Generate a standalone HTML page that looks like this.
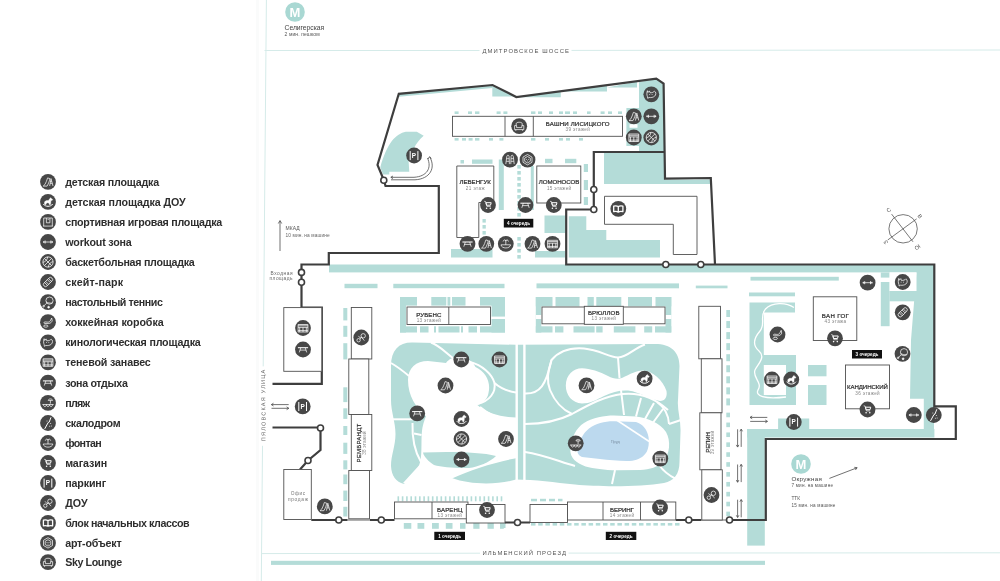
<!DOCTYPE html>
<html lang="ru"><head><meta charset="utf-8"><title>Генплан</title>
<style>
html,body{margin:0;padding:0;background:#fff;}
body{width:1000px;height:581px;overflow:hidden;font-family:"Liberation Sans",sans-serif;}
svg{display:block;will-change:transform;opacity:0.999}
text{font-family:"Liberation Sans",sans-serif;}
</style></head><body>
<svg width="1000" height="581" viewBox="0 0 1000 581">
<defs>
<g id="i-play"><circle r="7.9" fill="#474747" stroke="none"/><g fill="none" stroke="#fff" stroke-width="0.72" stroke-linejoin="round"><path d="M-4.8 4.3H-0.9C0.6 1.6 1.6 -1.2 1.9 -3.2L-0.4 -3.9C-1.2 -1.4 -2 0.8 -3 2.6Z"/><path d="M3 -3.2L1.7 4.2M3 -3.2L5 4.2M2.1 1.5H4.3M2.4 -0.4H3.8"/></g></g>
<g id="i-horse"><circle r="7.9" fill="#474747" stroke="none"/><g fill="none" stroke="#fff" stroke-width="0.72" stroke-linejoin="round"><path d="M-4.7 2.2C-2.6 5.3 2.6 5.3 4.7 2.2" stroke-width="1"/><path fill="#fff" stroke-width="0.4" d="M-3.4 2.4C-4 0.6 -3.2 -1 -1.4 -1.2H0.6C1 -2.4 1.8 -3.5 2.8 -4.1L3.3 -3.2L4.7 -2.3L4 -1.2L2.9 -1.6C2.9 0.2 2.7 1.4 2.5 2.6L1.4 2.9C1.4 1.6 0.6 0.9 -0.2 0.9C-1.2 0.9 -2 1.6 -2.1 2.9Z"/></g></g>
<g id="i-sport"><circle r="7.9" fill="#474747" stroke="none"/><g fill="none" stroke="#fff" stroke-width="0.72" stroke-linejoin="round"><path d="M-4.3 -3.9V4.1M4.3 -3.9V4.1M-5 4.2H5M-4.3 -3.9H4.3M-1.6 -3.9V0.9H1.9V-3.9M-0.4 -2.5H0.8"/></g></g>
<g id="i-workout"><circle r="7.9" fill="#474747" stroke="none"/><g fill="none" stroke="#fff" stroke-width="0.72" stroke-linejoin="round"><path d="M-5 0H5" stroke-width="0.75"/><path d="M-2.9 -1.5V1.5M2.9 -1.5V1.5" stroke-width="0.85"/><path d="M-4.2 -0.9V0.9M4.2 -0.9V0.9" stroke-width="0.8"/></g></g>
<g id="i-basket"><circle r="7.9" fill="#474747" stroke="none"/><g fill="none" stroke="#fff" stroke-width="0.72" stroke-linejoin="round"><g stroke-width="0.75"><circle r="5.1"/><path d="M-3.6 -3.6L3.6 3.6M-3.6 3.6L3.6 -3.6M-5.1 0.4C-2.6 -0.2 -0.4 -2.4 -0.4 -5.1M5.1 -0.4C2.6 0.2 0.4 2.4 0.4 5.1"/></g></g></g>
<g id="i-skate"><circle r="7.9" fill="#474747" stroke="none"/><g fill="none" stroke="#fff" stroke-width="0.72" stroke-linejoin="round"><g transform="rotate(-45)"><rect x="-5.6" y="-2.1" width="11.2" height="4.2" rx="2.1"/><path d="M-2.8 -2.1V2.1M2.8 -2.1V2.1M-1.2 -2.1V2.1M1.2 -2.1V2.1"/></g></g></g>
<g id="i-tennis"><circle r="7.9" fill="#474747" stroke="none"/><g fill="none" stroke="#fff" stroke-width="0.72" stroke-linejoin="round"><circle cx="1.5" cy="-1.6" r="3.6"/><path d="M-1.2 0.9L-4.6 4.1M-1.8 -0.4C-0.4 0.6 1.6 1.2 4.2 0.8"/><circle cx="0.6" cy="5" r="0.9" fill="#fff"/><circle cx="-4.4" cy="4" r="0.8"/></g></g>
<g id="i-hockey"><circle r="7.9" fill="#474747" stroke="none"/><g fill="none" stroke="#fff" stroke-width="0.72" stroke-linejoin="round"><path d="M3.7 -4.2L2.2 -1.2C1.6 -0.2 0.4 0 -0.8 -0.1L-3 -0.3C-4.4 -0.3 -4.4 1.3 -3 1.3L1 1.2C2.8 1 3.6 0 4.2 -1.4Z"/><ellipse cx="-2.2" cy="3.9" rx="2.2" ry="1.1"/></g></g>
<g id="i-dog"><circle r="7.9" fill="#474747" stroke="none"/><g fill="none" stroke="#fff" stroke-width="0.72" stroke-linejoin="round"><path d="M-3.9 -3.6L-3.3 -1.8L-1.9 -3.4L-1.2 -1.5C0.6 -1.6 2.4 -1.8 3.2 -3.2C4.9 -2.4 5 0.6 3.2 2C1.8 3.2 -0.4 3.4 -2.2 3.2L-3.6 4L-3.8 2.4C-4.6 0.8 -4.6 -1.8 -3.9 -3.6Z"/><path d="M-2 0.2H-1.2M0.4 0.2H1.2"/></g></g>
<g id="i-shade"><circle r="7.9" fill="#474747" stroke="none"/><g fill="none" stroke="#fff" stroke-width="0.72" stroke-linejoin="round"><g stroke-width="0.75"><rect x="-4.9" y="-3.5" width="9.8" height="7.5"/><path d="M-4.9 -2.2H4.9M-4.9 -0.6H4.9M-3.3 -0.6V4M0 -0.6V4M3.3 -0.6V4M-4.9 2.6H4.9"/></g></g></g>
<g id="i-rest"><circle r="7.9" fill="#474747" stroke="none"/><g fill="none" stroke="#fff" stroke-width="0.72" stroke-linejoin="round"><path d="M-5.1 -1.8H5.1" stroke-width="1.05"/><path d="M-2.2 -1.8L-3.7 2.9M2.2 -1.8L3.7 2.9M-3.2 0.6H3.2"/></g></g>
<g id="i-beach"><circle r="7.9" fill="#474747" stroke="none"/><g fill="none" stroke="#fff" stroke-width="0.72" stroke-linejoin="round"><path d="M-5.6 1.7H5.6"/><path d="M-4.6 1.8C-4.4 4.4 -1.8 4.4 -1.5 1.8C-1.3 4.4 1.3 4.4 1.5 1.8C1.8 4.4 4.4 4.4 4.6 1.8"/><path d="M0.2 -2.4C0.6 -4.4 4.2 -4.4 4.6 -2.4ZM2.4 -2.4V0.8"/></g></g>
<g id="i-climb"><circle r="7.9" fill="#474747" stroke="none"/><g fill="none" stroke="#fff" stroke-width="0.72" stroke-linejoin="round"><path d="M3 -5.7L1.2 -0.9L0.2 -0.5L-3.3 5.9" stroke-width="1"/><path d="M2.6 0.4V0.5M1.6 3.2V3.3M3.4 3V3.1M-1 -2V-1.9" stroke-width="0.8" stroke-linecap="round"/></g></g>
<g id="i-fountain"><circle r="7.9" fill="#474747" stroke="none"/><g fill="none" stroke="#fff" stroke-width="0.72" stroke-linejoin="round"><path d="M-4.8 1H4.8C4.4 5.2 -4.4 5.2 -4.8 1Z"/><path d="M0 -3.9V1M-2.7 -2.3C-2.2 -4.4 -0.4 -4.4 0 -2.7C0.4 -4.4 2.2 -4.4 2.7 -2.3"/></g></g>
<g id="i-shop"><circle r="7.9" fill="#474747" stroke="none"/><g fill="none" stroke="#fff" stroke-width="0.72" stroke-linejoin="round"><path d="M-3.8 -3.7L-2.4 -3.4L-1.1 1.4H2.7"/><path d="M-2.1 -2.3H3.2L2.5 0.2H-1.4Z" stroke-width="1"/><circle cx="-1.4" cy="3.3" r="0.8" fill="#fff" stroke="none"/><circle cx="2.3" cy="3.3" r="0.8" fill="#fff" stroke="none"/></g></g>
<g id="i-parking"><circle r="7.9" fill="#474747" stroke="none"/><g fill="none" stroke="#fff" stroke-width="0.72" stroke-linejoin="round"><path d="M-3.9 -4.4V4.6M3.8 -4.4V4.6" stroke-width="1"/></g></g>
<g id="i-dou"><circle r="7.9" fill="#474747" stroke="none"/><g fill="none" stroke="#fff" stroke-width="0.72" stroke-linejoin="round"><circle cx="1.9" cy="-1.7" r="2.2"/><circle cx="-2.7" cy="2.7" r="1.7"/><path d="M-1.5 1.5L0.3 -0.2M-2.9 -1.6C-2.2 -0.2 -0.8 0.8 0.3 -0.2C1.2 1.2 2 2.4 3.2 3"/></g></g>
<g id="i-school"><circle r="7.9" fill="#474747" stroke="none"/><g fill="none" stroke="#fff" stroke-width="0.72" stroke-linejoin="round"><path d="M0 -2.3C-1.4 -3.1 -3 -3.1 -4.6 -2.7V2.9C-3 2.5 -1.4 2.5 0 3.3C1.4 2.5 3 2.5 4.6 2.9V-2.7C3 -3.1 1.4 -3.1 0 -2.3ZM0 -2.3V3.3" stroke-width="1.3"/></g></g>
<g id="i-art"><circle r="7.9" fill="#474747" stroke="none"/><g fill="none" stroke="#fff" stroke-width="0.72" stroke-linejoin="round"><path d="M0 -5.2L4.5 -2.6V2.6L0 5.2L-4.5 2.6V-2.6Z"/><path d="M0 -3.2L2.8 -1.6V1.6L0 3.2L-2.8 1.6V-1.6Z"/><path d="M-1 -0.4V-0.3M1 -0.4V-0.3M0 1.2V1.3" stroke-linecap="round"/></g></g>
<g id="i-twin"><circle r="7.9" fill="#474747" stroke="none"/><g fill="none" stroke="#fff" stroke-width="0.72" stroke-linejoin="round"><path d="M-4.2 4.4L-3.2 -3.2C-2.8 -5 -1.2 -5 -0.9 -3.2L-0.6 4.4M-3.4 -1H-0.8M-3.7 1.6H-0.7"/><path d="M0.8 4.4L1.1 -3.2C1.4 -5 3 -5 3.3 -3.2L4.2 4.4M1 -1H3.5M0.9 1.6H3.8"/></g></g>
<g id="i-lounge"><circle r="7.9" fill="#474747" stroke="none"/><g fill="none" stroke="#fff" stroke-width="0.72" stroke-linejoin="round"><path d="M-3 -0.6V-2.6C-3 -4.4 3 -4.4 3 -2.6V-0.6"/><path d="M-4.6 -0.6H-2.6V1.4H2.6V-0.6H4.6V3.4H-4.6ZM-3.4 3.4V4.6M3.4 3.4V4.6"/></g></g>

</defs>
<rect x="256" y="0" width="3" height="581" fill="#fafbfb"/>
<g id="teal" fill="#b4dcd8">
<g stroke="#d5ebe9" stroke-width="1" fill="none">
<path d="M264.5 50.5H479.5M571.5 50.4L1000 50"/>
<path d="M266.4 0L263.2 366.4M262.5 445.8L261.3 581"/>
<path d="M262 553.6L480 553.2M568.5 553.1L1000 552.8"/>
</g>
<rect x="271" y="560.8" width="494" height="4.1" fill="#b4dcd8" />
<path d="M398.5 94L492.5 85V88L399 96.8Z"/>
<path d="M492.3 86V96.6H516Z"/>
<path d="M516.3 97.2H560.8V91.4ZM560.8 91.5H607V85.4ZM607 87.5H637V81.5Z"/>
<path d="M639 82L656.5 79L663.5 84L665 152H639Z"/>
<rect x="626.4" y="108" width="13.6" height="38" fill="#b4dcd8" />
<rect x="629.5" y="124.2" width="8" height="3.6" fill="#fff"/>
<path d="M604 153H665V179.5H710.5V184H604Z"/>
<path d="M380.3 167.5C383 156 388 146 392 140.7C396 136 401 132.5 405.8 131.7H416.8L423.7 135.8C419 140 416 144 414 148.2C410 153 408.6 157 408.6 161.3L409.3 171.7H389.3V174.4H383Z"/>
<rect x="454.6" y="111.4" width="4" height="2.6" fill="#b4dcd8" />
<rect x="468" y="111.4" width="4" height="2.6" fill="#b4dcd8" />
<rect x="475" y="111.4" width="4.4" height="2.6" fill="#b4dcd8" />
<rect x="496.6" y="111.4" width="4" height="2.6" fill="#b4dcd8" />
<rect x="503.4" y="111.4" width="4" height="2.6" fill="#b4dcd8" />
<rect x="531" y="111.4" width="4.4" height="2.6" fill="#b4dcd8" />
<rect x="538" y="111.4" width="4" height="2.6" fill="#b4dcd8" />
<rect x="549" y="111.4" width="4" height="2.6" fill="#b4dcd8" />
<rect x="559" y="111.4" width="4" height="2.6" fill="#b4dcd8" />
<rect x="565" y="111.4" width="5" height="2.6" fill="#b4dcd8" />
<rect x="573" y="111.4" width="4" height="2.6" fill="#b4dcd8" />
<rect x="587" y="111.4" width="3.6" height="2.6" fill="#b4dcd8" />
<rect x="600.6" y="111.4" width="4" height="2.6" fill="#b4dcd8" />
<rect x="608" y="111.4" width="4" height="2.6" fill="#b4dcd8" />
<rect x="618" y="111.4" width="4" height="2.6" fill="#b4dcd8" />
<rect x="454.6" y="138" width="4" height="2.6" fill="#b4dcd8" />
<rect x="462" y="138" width="4" height="2.6" fill="#b4dcd8" />
<rect x="468.6" y="138" width="4" height="2.6" fill="#b4dcd8" />
<rect x="475" y="138" width="4.4" height="2.6" fill="#b4dcd8" />
<rect x="489" y="138" width="4" height="2.6" fill="#b4dcd8" />
<rect x="499.4" y="138" width="4" height="2.6" fill="#b4dcd8" />
<rect x="531" y="138" width="4.4" height="2.6" fill="#b4dcd8" />
<rect x="545" y="138" width="4" height="2.6" fill="#b4dcd8" />
<rect x="559" y="138" width="4" height="2.6" fill="#b4dcd8" />
<rect x="566" y="138" width="4" height="2.6" fill="#b4dcd8" />
<rect x="579" y="138" width="4" height="2.6" fill="#b4dcd8" />
<rect x="640" y="111.3" width="3" height="2.5" fill="#b4dcd8" />
<rect x="460.5" y="160" width="3.5" height="3.5" fill="#b4dcd8" />
<rect x="472" y="159.5" width="20.5" height="4.3" fill="#b4dcd8" />
<rect x="545" y="158.8" width="7.5" height="4.4" fill="#b4dcd8" />
<rect x="565" y="158.8" width="11.3" height="4.4" fill="#b4dcd8" />
<rect x="498.8" y="159.5" width="5" height="50.5" fill="#b4dcd8" />
<rect x="530.8" y="166" width="3" height="44" fill="#b4dcd8" />
<rect x="517.3" y="165" width="3.5" height="3.6" fill="#b4dcd8" />
<rect x="517.3" y="171" width="3.5" height="3.6" fill="#b4dcd8" />
<rect x="517.3" y="177" width="3.5" height="3.6" fill="#b4dcd8" />
<rect x="517.3" y="183" width="3.5" height="3.6" fill="#b4dcd8" />
<rect x="517.3" y="189" width="3.5" height="3.6" fill="#b4dcd8" />
<rect x="517.3" y="195" width="3.5" height="3.6" fill="#b4dcd8" />
<rect x="517.3" y="201" width="3.5" height="3.6" fill="#b4dcd8" />
<rect x="517.3" y="207" width="3.5" height="3.6" fill="#b4dcd8" />
<rect x="517.3" y="213" width="3.5" height="3.6" fill="#b4dcd8" />
<rect x="517.3" y="237" width="3.5" height="3.6" fill="#b4dcd8" />
<rect x="517.3" y="243" width="3.5" height="3.6" fill="#b4dcd8" />
<rect x="517.3" y="249" width="3.5" height="3.6" fill="#b4dcd8" />
<rect x="517.3" y="255" width="3.5" height="3.6" fill="#b4dcd8" />
<rect x="482.5" y="219" width="3.3" height="3.6" fill="#b4dcd8" />
<rect x="482.5" y="225" width="3.3" height="3.6" fill="#b4dcd8" />
<rect x="482.5" y="231" width="3.3" height="3.6" fill="#b4dcd8" />
<rect x="583.8" y="164" width="4.2" height="8" fill="#b4dcd8" />
<rect x="583.8" y="180" width="4.2" height="10" fill="#b4dcd8" />
<rect x="583.8" y="197" width="4.2" height="8" fill="#b4dcd8" />
<rect x="451" y="249" width="41.5" height="8.5" fill="#b4dcd8" />
<rect x="535" y="251" width="30" height="6.5" fill="#b4dcd8" />
<rect x="544.5" y="215.5" width="21" height="17.5" fill="#b4dcd8" />
<path d="M568.8 216.3H586.3V230H606.3V240H660V257.5H568.8Z"/>
<rect x="329" y="264.5" width="605" height="7.9" fill="#b4dcd8" />
<rect x="344.5" y="283.8" width="33" height="4.4" fill="#b4dcd8" />
<rect x="393.3" y="283.8" width="111.2" height="4.4" fill="#b4dcd8" />
<rect x="536.5" y="283.4" width="142.5" height="4.9" fill="#b4dcd8" />
<rect x="695.8" y="285.6" width="31.7" height="2.7" fill="#b4dcd8" />
<rect x="750.5" y="276.8" width="88.3" height="3.8" fill="#b4dcd8" />
<rect x="749" y="292.5" width="46" height="3.8" fill="#b4dcd8" />
<rect x="400" y="297" width="17" height="8.6" fill="#b4dcd8" />
<rect x="431.3" y="297" width="15" height="8.6" fill="#b4dcd8" />
<rect x="447.5" y="297" width="2.8" height="8.6" fill="#b4dcd8" />
<rect x="452" y="297" width="13.5" height="8.6" fill="#b4dcd8" />
<rect x="480" y="297" width="20" height="8.6" fill="#b4dcd8" />
<rect x="400" y="297" width="6" height="35.5" fill="#b4dcd8" />
<rect x="491.5" y="297" width="13.5" height="35.5" fill="#b4dcd8" />
<rect x="400" y="326.3" width="17" height="6.2" fill="#b4dcd8" />
<rect x="420" y="326.3" width="8.5" height="6.2" fill="#b4dcd8" />
<rect x="434" y="326.3" width="2" height="6.2" fill="#b4dcd8" />
<rect x="438.5" y="326.3" width="21" height="6.2" fill="#b4dcd8" />
<rect x="461" y="326.3" width="2" height="6.2" fill="#b4dcd8" />
<rect x="468.5" y="326.3" width="8.5" height="6.2" fill="#b4dcd8" />
<rect x="480" y="326.3" width="25" height="6.2" fill="#b4dcd8" />
<rect x="491" y="316.6" width="15" height="2.4" fill="#fff"/>
<rect x="535.8" y="297" width="16.7" height="9.3" fill="#b4dcd8" />
<rect x="555.5" y="297" width="24" height="9.3" fill="#b4dcd8" />
<rect x="587.5" y="297" width="6.3" height="9.3" fill="#b4dcd8" />
<rect x="596.3" y="297" width="25" height="9.3" fill="#b4dcd8" />
<rect x="628" y="297" width="24" height="9.3" fill="#b4dcd8" />
<rect x="655.5" y="297" width="15.8" height="9.3" fill="#b4dcd8" />
<rect x="535.8" y="297" width="5.5" height="35.5" fill="#b4dcd8" />
<rect x="665.5" y="297" width="5.8" height="35.5" fill="#b4dcd8" />
<rect x="535.8" y="326.3" width="16.7" height="6.2" fill="#b4dcd8" />
<rect x="555" y="326.3" width="8.4" height="6.2" fill="#b4dcd8" />
<rect x="573.5" y="326.3" width="21.1" height="6.2" fill="#b4dcd8" />
<rect x="596.2" y="326.3" width="6.4" height="6.2" fill="#b4dcd8" />
<rect x="613.8" y="326.3" width="21.6" height="6.2" fill="#b4dcd8" />
<rect x="644.2" y="326.3" width="8" height="6.2" fill="#b4dcd8" />
<rect x="655" y="326.3" width="16.3" height="6.2" fill="#b4dcd8" />
<rect x="535.8" y="315" width="6" height="4" fill="#fff"/><rect x="665.5" y="315" width="6" height="4" fill="#fff"/>
<rect x="343.3" y="308" width="4" height="12.4" fill="#b4dcd8" />
<rect x="343.3" y="325.8" width="4" height="11" fill="#b4dcd8" />
<rect x="343.3" y="343.2" width="4" height="16.2" fill="#b4dcd8" />
<rect x="343.3" y="387.3" width="4" height="14.8" fill="#b4dcd8" />
<rect x="343.3" y="408.3" width="4" height="10.6" fill="#b4dcd8" />
<rect x="343.3" y="426" width="4" height="9" fill="#b4dcd8" />
<rect x="343.3" y="442.7" width="4" height="11.2" fill="#b4dcd8" />
<rect x="343.3" y="460.3" width="4" height="9.1" fill="#b4dcd8" />
<rect x="343.3" y="474.5" width="4" height="9.7" fill="#b4dcd8" />
<rect x="343.3" y="490.6" width="4" height="10.4" fill="#b4dcd8" />
<rect x="343.3" y="506.8" width="4" height="9.7" fill="#b4dcd8" />
<rect x="726.3" y="310" width="3.7" height="7" fill="#b4dcd8" />
<rect x="726.3" y="321.05" width="3.7" height="7" fill="#b4dcd8" />
<rect x="726.3" y="332.1" width="3.7" height="7" fill="#b4dcd8" />
<rect x="726.3" y="343.15" width="3.7" height="7" fill="#b4dcd8" />
<rect x="726.3" y="354.2" width="3.7" height="7" fill="#b4dcd8" />
<rect x="726.3" y="365.25" width="3.7" height="7" fill="#b4dcd8" />
<rect x="726.3" y="376.3" width="3.7" height="7" fill="#b4dcd8" />
<rect x="726.3" y="387.35" width="3.7" height="7" fill="#b4dcd8" />
<rect x="726.3" y="398.4" width="3.7" height="7" fill="#b4dcd8" />
<rect x="726.3" y="412.65" width="3.7" height="4.6" fill="#b4dcd8" />
<rect x="726.3" y="422.55" width="3.7" height="4.6" fill="#b4dcd8" />
<rect x="726.3" y="432.45" width="3.7" height="4.6" fill="#b4dcd8" />
<rect x="726.3" y="442.35" width="3.7" height="4.6" fill="#b4dcd8" />
<rect x="726.3" y="452.25" width="3.7" height="4.6" fill="#b4dcd8" />
<rect x="726.3" y="462.15" width="3.7" height="4.6" fill="#b4dcd8" />
<rect x="726.3" y="472.05" width="3.7" height="4.6" fill="#b4dcd8" />
<rect x="726.3" y="481.95" width="3.7" height="4.6" fill="#b4dcd8" />
<rect x="726.3" y="491.85" width="3.7" height="4.6" fill="#b4dcd8" />
<rect x="726.3" y="501.75" width="3.7" height="4.6" fill="#b4dcd8" />
<rect x="726.3" y="511.65" width="3.7" height="4.6" fill="#b4dcd8" />
<rect x="397.5" y="496.3" width="1.6" height="5" fill="#b4dcd8" />
<rect x="401.8" y="496.3" width="1.6" height="5" fill="#b4dcd8" />
<rect x="406.1" y="496.3" width="1.6" height="5" fill="#b4dcd8" />
<rect x="410.4" y="496.3" width="1.6" height="5" fill="#b4dcd8" />
<rect x="414.7" y="496.3" width="1.6" height="5" fill="#b4dcd8" />
<rect x="419" y="496.3" width="1.6" height="5" fill="#b4dcd8" />
<rect x="423.3" y="496.3" width="1.6" height="5" fill="#b4dcd8" />
<rect x="427.6" y="496.3" width="1.6" height="5" fill="#b4dcd8" />
<rect x="431.9" y="496.3" width="1.6" height="5" fill="#b4dcd8" />
<rect x="436.2" y="496.3" width="1.6" height="5" fill="#b4dcd8" />
<rect x="440.5" y="496.3" width="1.6" height="5" fill="#b4dcd8" />
<rect x="444.8" y="496.3" width="1.6" height="5" fill="#b4dcd8" />
<rect x="449.1" y="496.3" width="1.6" height="5" fill="#b4dcd8" />
<rect x="453.4" y="496.3" width="1.6" height="5" fill="#b4dcd8" />
<rect x="457.7" y="496.3" width="1.6" height="5" fill="#b4dcd8" />
<rect x="462" y="496.3" width="1.6" height="5" fill="#b4dcd8" />
<rect x="466.3" y="496.3" width="1.6" height="5" fill="#b4dcd8" />
<rect x="470.6" y="496.3" width="1.6" height="5" fill="#b4dcd8" />
<rect x="474.9" y="496.3" width="1.6" height="5" fill="#b4dcd8" />
<rect x="479.2" y="496.3" width="1.6" height="5" fill="#b4dcd8" />
<rect x="483.5" y="496.3" width="1.6" height="5" fill="#b4dcd8" />
<rect x="487.8" y="496.3" width="1.6" height="5" fill="#b4dcd8" />
<rect x="492.1" y="496.3" width="1.6" height="5" fill="#b4dcd8" />
<rect x="496.4" y="496.3" width="1.6" height="5" fill="#b4dcd8" />
<rect x="500.7" y="496.3" width="1.6" height="5" fill="#b4dcd8" />
<rect x="403.8" y="523" width="7.5" height="5.8" fill="#b4dcd8" />
<rect x="417.5" y="523" width="6.8" height="5.8" fill="#b4dcd8" />
<rect x="432" y="523" width="6.8" height="5.8" fill="#b4dcd8" />
<rect x="445.8" y="523" width="6.7" height="5.8" fill="#b4dcd8" />
<rect x="460" y="523" width="5.5" height="5.8" fill="#b4dcd8" />
<rect x="473.3" y="523" width="6.2" height="5.8" fill="#b4dcd8" />
<rect x="487.5" y="523" width="6.3" height="5.8" fill="#b4dcd8" />
<rect x="500" y="523" width="3.8" height="5.8" fill="#b4dcd8" />
<rect x="531" y="498.8" width="6" height="2.5" fill="#b4dcd8" />
<rect x="540" y="498.8" width="6" height="2.5" fill="#b4dcd8" />
<rect x="549" y="498.8" width="6" height="2.5" fill="#b4dcd8" />
<rect x="558" y="498.8" width="4.5" height="2.5" fill="#b4dcd8" />
<rect x="531" y="523" width="4.5" height="2.6" fill="#b4dcd8" />
<rect x="538.2" y="523" width="4.5" height="2.6" fill="#b4dcd8" />
<rect x="545.4" y="523" width="4.5" height="2.6" fill="#b4dcd8" />
<rect x="552.6" y="523" width="4.5" height="2.6" fill="#b4dcd8" />
<rect x="559.8" y="523" width="4.5" height="2.6" fill="#b4dcd8" />
<rect x="567" y="523" width="4.5" height="2.6" fill="#b4dcd8" />
<rect x="574.2" y="523" width="4.5" height="2.6" fill="#b4dcd8" />
<rect x="581.4" y="523" width="4.5" height="2.6" fill="#b4dcd8" />
<rect x="588.6" y="523" width="4.5" height="2.6" fill="#b4dcd8" />
<rect x="595.8" y="523" width="4.5" height="2.6" fill="#b4dcd8" />
<rect x="603" y="523" width="4.5" height="2.6" fill="#b4dcd8" />
<rect x="610.2" y="523" width="4.5" height="2.6" fill="#b4dcd8" />
<rect x="617.4" y="523" width="4.5" height="2.6" fill="#b4dcd8" />
<rect x="624.6" y="523" width="4.5" height="2.6" fill="#b4dcd8" />
<rect x="631.8" y="523" width="4.5" height="2.6" fill="#b4dcd8" />
<rect x="639" y="523" width="4.5" height="2.6" fill="#b4dcd8" />
<rect x="646.2" y="523" width="4.5" height="2.6" fill="#b4dcd8" />
<rect x="653.4" y="523" width="4.5" height="2.6" fill="#b4dcd8" />
<rect x="660.6" y="523" width="4.5" height="2.6" fill="#b4dcd8" />
<rect x="667.8" y="523" width="4.5" height="2.6" fill="#b4dcd8" />
<rect x="675" y="523" width="4.5" height="2.6" fill="#b4dcd8" />
<rect x="503" y="523" width="2.5" height="5" fill="#b4dcd8" />
<path d="M916.5 272L911 340L910 398.8H923.8V437H934V265Z"/>
<rect x="880.8" y="272.5" width="8.8" height="5.1" fill="#b4dcd8" />
<rect x="880.8" y="282" width="8.8" height="44.2" fill="#b4dcd8" />
<rect x="889.5" y="291" width="26.5" height="10.3" fill="#b4dcd8" />
<rect x="889.6" y="272.5" width="26.9" height="18.5" fill="#fff"/>
<path d="M749.5 302.5H795V312.5H763.8V355H796V405H749.5Z"/>
<rect x="763.8" y="365" width="22.2" height="30" fill="#fff"/>
<rect x="808" y="365" width="18.5" height="11.3" fill="#b4dcd8" />
<rect x="808" y="385" width="18.5" height="20" fill="#b4dcd8" />
<path d="M794 307.5C786 302 772 302 765.5 309C759 316 766 324 760 331C754 338 752 345 759 351C766 357 758 364 755 370C752 377 763 383 758 390C755 396 764 399.5 786 397" fill="none" stroke="#fff" stroke-width="1.3"/>
<rect x="747.2" y="429" width="187.2" height="8.5" fill="#b4dcd8" />
<rect x="747.2" y="429" width="17.6" height="116.6" fill="#b4dcd8" />
<rect x="778.1" y="418.5" width="31.1" height="11.5" fill="#b4dcd8" />
<path d="M391 366C391 350 399 342 413 342.5L516 344.8L655 344C671 344 679.5 352 679.5 366L678 400C677 410 681 420 680.5 432L679.5 462C679.5 474 674 481 664 483C640 487 600 487 575 484.5C555 482.5 535 479.5 516 479.5C498 485 470 485 452 478L419 465.5C416 473 410 480 404 484C396 482 391.5 476 391 466C391 455 395.5 446 395.5 434C395.5 422 391 412 391 400Z"/>
<path fill="#fff" d="M408 380C408 368 416 361 428 361L446 363C452 354 470 355 475.5 367C486 372 491 382 488.5 393C487.5 399 483 403 477.4 405C486 413 500 417 516 417.5V458.2C495 462 470 470 452 478.5L430 492L403 483L419 465.5C422.5 458 421 442 421.8 433C422.5 425 424.5 420 426 416.2C416 408 408 396 408 380Z"/>
<path d="M423 452.6C450 451.5 480 452 496 456C490 462 478 467 469 468C455 468.5 442 467 434 465C428 461 424 457 423 452.6Z"/>
<g fill="none" stroke="#fff" stroke-width="2">
<path d="M431 342.5C440 346 445 352 453 358"/>
<path d="M391 363C398 367 403 371 409 376"/>
<path d="M391 419.3H413"/>
<path d="M412.5 423C412 438 415 452 421 462"/>
<path d="M414 433.5L421.5 435"/>
<path d="M470 362C482 365 492 374 494.5 383C500 388 507 391 516 392.5"/>
<path d="M494.5 383C496 392 490 401 477.5 404"/>
<path d="M516 420C500 420 488 414 480 407"/>
</g>
<path d="M516.7 343V480M524.4 343V480" stroke="#fff" stroke-width="2.4" fill="none"/>
<path fill="#fff" d="M565.8 385.5C566 375 573 368.3 582 368.3C590 368.3 600 372 608 376C613 378.5 617 379.5 622 378C630 374 637 370.5 643.5 370.5C652 371 663 380 666.5 391C667.5 397 665 401 660 401C652 400 640 392 628 390.5C620 390 612 392 604 396C596 400 590 403.5 582 403.5C572 403 565.8 395 565.8 385.5Z"/>
<path fill="#fff" d="M570.3 450C571 438 576 428 584 423C593 417.5 604 415.5 614 415.5L636 416.5C648 418 660 423 666 432C671 441 670 454 663 462C658 467 650 469.5 640 470L618 470.3C606 470.5 594 468.5 585.6 466.5C576 463 570.3 458 570.3 450Z"/>
<path fill="#bcd9ee" d="M577.5 450C579 441 583 433 589 428.4C596 423.5 605 421 614.4 421.2L636 422C643 424 647.5 430 648.6 437.4C649.3 443 648.5 448 646.8 451.8C643 457.5 638 460 632.4 460.8C622 461.5 610 460 600 459L582 457C578.5 455.5 577 453 577.5 450Z"/>
<path d="M612 417L650 442" stroke="#fff" stroke-width="1.6" fill="none"/>
<g fill="none" stroke="#fff" stroke-width="2">
<path d="M525 393.5C540 394 546 385 551.5 360C560 350 572 347.5 584 348.5C600 350 608 357 618 357.5C628 357 634 348 645 344.5"/>
<path d="M551.5 360C548 370 546 380 550 390C555 402 563 410 572 414"/>
<path d="M525 424C545 424 560 420 572 414C590 404 605 396 622 394C640 392 655 398 668 410"/>
<path d="M618 357.5L619.5 378M621 390L624 415"/>
<path d="M641 398L636 416.5M654 403L645 419M663 409L652 424"/>

<path d="M525 452C545 455 560 462 575 466"/>
<path d="M615 470L612 484"/>
<path d="M659 465C664 472 670 476 676 479"/>
<path d="M669 424L681 420"/><path d="M657 402C664 407 668.5 414 669 424"/>
</g>
</g>
<g id="outline" fill="none" stroke="#3e3e3e" stroke-width="2.2" stroke-linejoin="miter">
<path d="M383.8 180L377.5 165L398.8 93.8L492.5 85L516.3 97L656.3 78.6L663.6 83.6L665 178.6L710.8 178L715 264.5"/>
<path d="M383.8 180.3L385.5 186H438.8V253H328.8V264.5H301.5V307.6H321.8V383.8H272.5"/>
<path d="M272.5 427.5H320.5V450L308 460.5L300 469.5"/>
<path d="M665 152H593.8V209.5H566.2V264.5H934.3V406.4H955.8V439H765.8V520H729.5"/>
<path d="M311.3 520H347.5M370 520H394.5M505 522.5H530M675.8 520H701.3"/>
</g>
<path d="M347.5 520H370M701.3 520H729.5" stroke="#3e3e3e" stroke-width="0.8" fill="none"/>
<g fill="#fff" stroke="#3e3e3e" stroke-width="1.6">
<circle cx="383.8" cy="180.3" r="3"/>
<circle cx="301.5" cy="272.4" r="3"/>
<circle cx="301.5" cy="282.2" r="3"/>
<circle cx="320.5" cy="428" r="3"/>
<circle cx="308" cy="460.5" r="3"/>
<circle cx="338.8" cy="520" r="3"/>
<circle cx="381.3" cy="520" r="3"/>
<circle cx="517.5" cy="522.5" r="3"/>
<circle cx="688.8" cy="520" r="3"/>
<circle cx="729.5" cy="520" r="3"/>
<circle cx="593.8" cy="189.5" r="3"/>
<circle cx="593.8" cy="209.5" r="3"/>
<circle cx="665.8" cy="264.5" r="3"/>
<circle cx="700.8" cy="264.5" r="3"/>
</g>
<g id="bld" fill="#fff" stroke="#505050" stroke-width="0.9">
<rect x="452.5" y="116.3" width="170" height="20"/>
<path d="M505 116.3V136.3M533.3 116.3V136.3"/>
<path d="M456.8 166H493.8V202.5H478.8V237.5H456.8Z"/>
<rect x="536.8" y="166" width="44" height="37"/>
<path d="M604.5 196.3H697V254.5H673.3V224.3H604.5Z"/>
<rect x="283.8" y="307.6" width="38" height="63.7"/>
<rect x="283.8" y="469.5" width="27.5" height="50"/>
<rect x="351.3" y="307.5" width="20.5" height="51.5"/>
<rect x="348.8" y="359" width="20" height="55.5"/>
<rect x="351.3" y="414.5" width="20.5" height="56"/>
<rect x="348.8" y="470.5" width="20.7" height="48.3"/>
<rect x="407" y="307" width="83.5" height="17.5"/>
<path d="M448.8 307V324.5"/>
<rect x="542" y="307" width="123" height="16.8"/>
<rect x="584.3" y="306.3" width="39" height="18"/>
<rect x="698.8" y="306.3" width="21.7" height="52.5"/>
<rect x="701.3" y="358.8" width="20.7" height="54"/>
<rect x="699.8" y="412.8" width="21.2" height="57"/>
<rect x="701.8" y="469.8" width="20.5" height="50.2"/>
<rect x="394.5" y="502" width="73.5" height="16.8"/>
<path d="M432 502V518.8"/>
<rect x="466.3" y="504.5" width="38.7" height="18.5"/>
<rect x="530" y="504.5" width="37.5" height="18"/>
<rect x="567.5" y="502" width="108.3" height="18"/>
<path d="M603 502V520M640.5 502V520"/>
<rect x="813.3" y="296.8" width="43.5" height="43.7"/>
<rect x="845.5" y="365" width="44" height="43.8"/>
</g>
<g fill="none" stroke="#4c4c4c" stroke-width="0.8">
<path d="M280 251V221M278.3 223.5L280 220.5L281.7 223.5"/>
<path d="M271.5 404.6H288.7M273.5 403.2L271.3 404.6L273.5 406M271.5 408.3H288.7M286.6 406.9L288.9 408.3L286.6 409.7"/>
<path d="M750.2 417.4H767.3M752.2 416L750 417.4L752.2 418.8M750.2 421.4H767.3M765.3 420L767.5 421.4L765.3 422.8"/>
<path d="M737.6 429.3V446.90000000000003M736.3 444.90000000000003L737.6 447.1L738.9 444.90000000000003M741.2 429.3V446.90000000000003M739.9 431.3L741.2 429.1L742.5 431.3"/>
<path d="M737.6 464.5V482.1M736.3 480.1L737.6 482.3L738.9 480.1M741.2 464.5V482.1M739.9 466.5L741.2 464.3L742.5 466.5"/>
<path d="M737.6 499.7V517.3M736.3 515.3L737.6 517.5L738.9 515.3M741.2 499.7V517.3M739.9 501.7L741.2 499.5L742.5 501.7"/>
<path d="M427.5 158C432 168 427 176.5 414 177.3H391M393 176L390.8 177.3L393 178.6"/>
<path d="M391 179.8H415C430 179 436 168 429.8 157M428 159L429.6 156.6L431.3 158.6"/>
<path d="M829.4 478.4L857 467.8M854.3 467.3L857.2 467.7L855.4 470"/>
</g>
<g fill="none" stroke="#555" stroke-width="0.8"><circle cx="903.1" cy="228.8" r="14.2"/><path d="M891.6 214.1L913 241.8M887.7 240L916.6 218.9"/></g>
<use href="#i-shop" x="488" y="205"/>
<use href="#i-rest" x="525.5" y="205"/>
<use href="#i-shop" x="553.8" y="205"/>
<use href="#i-rest" x="467.5" y="243.8"/>
<use href="#i-play" x="486.3" y="243.8"/>
<use href="#i-fountain" x="505.8" y="243.8"/>
<use href="#i-play" x="532.5" y="243.8"/>
<use href="#i-shade" x="552.5" y="243.8"/>
<use href="#i-twin" x="510" y="159.7"/>
<use href="#i-art" x="527.5" y="159.7"/>
<use href="#i-lounge" x="519.2" y="126.2"/>
<use href="#i-dog" x="651.3" y="94.3"/>
<use href="#i-play" x="633.8" y="116.3"/>
<use href="#i-workout" x="651.3" y="116.3"/>
<use href="#i-shade" x="633.8" y="137.5"/>
<use href="#i-basket" x="651.3" y="137.5"/>
<use href="#i-parking" x="414.1" y="155.5"/>
<text x="414" y="157.85" font-size="6.4" font-weight="bold" fill="#fff" text-anchor="middle">P</text>
<use href="#i-school" x="618.3" y="208.8"/>
<use href="#i-workout" x="867.6" y="282.7"/>
<use href="#i-dog" x="902.7" y="282"/>
<use href="#i-skate" x="902.7" y="312.3"/>
<use href="#i-tennis" x="902.5" y="353.8"/>
<use href="#i-hockey" x="777.5" y="334.5"/>
<use href="#i-shop" x="835" y="338.3"/>
<use href="#i-shade" x="772" y="379.5"/>
<use href="#i-horse" x="791.3" y="379.5"/>
<use href="#i-workout" x="913.8" y="415"/>
<use href="#i-climb" x="933.8" y="415"/>
<use href="#i-shop" x="867.5" y="409.5"/>
<use href="#i-parking" x="793.8" y="422"/>
<text x="793.7" y="424.35" font-size="6.4" font-weight="bold" fill="#fff" text-anchor="middle">P</text>
<use href="#i-shade" x="303" y="328"/>
<use href="#i-rest" x="303" y="349.5"/>
<use href="#i-dou" x="361.3" y="337.5"/>
<use href="#i-parking" x="302.7" y="406.4"/>
<text x="302.6" y="408.75" font-size="6.4" font-weight="bold" fill="#fff" text-anchor="middle">P</text>
<use href="#i-play" x="324.8" y="506.4"/>
<use href="#i-rest" x="461.3" y="359.5"/>
<use href="#i-shade" x="499.5" y="359.5"/>
<use href="#i-play" x="445.5" y="385.5"/>
<use href="#i-rest" x="417.2" y="413.4"/>
<use href="#i-horse" x="461.5" y="419"/>
<use href="#i-basket" x="461.5" y="439"/>
<use href="#i-workout" x="461.5" y="459.5"/>
<use href="#i-play" x="506" y="439"/>
<use href="#i-play" x="586.5" y="385.4"/>
<use href="#i-horse" x="644.6" y="378.7"/>
<use href="#i-beach" x="575.7" y="443.3"/>
<use href="#i-shade" x="660.3" y="458.6"/>
<use href="#i-shop" x="487" y="510"/>
<use href="#i-shop" x="660" y="507.5"/>
<use href="#i-dou" x="711.5" y="495"/>
<use href="#i-play" x="48" y="181.8"/>
<use href="#i-horse" x="48" y="201.8"/>
<use href="#i-sport" x="48" y="221.9"/>
<use href="#i-workout" x="48" y="242"/>
<use href="#i-basket" x="48" y="262"/>
<use href="#i-skate" x="48" y="282"/>
<use href="#i-tennis" x="48" y="302.2"/>
<use href="#i-hockey" x="48" y="322.2"/>
<use href="#i-dog" x="48" y="342.3"/>
<use href="#i-shade" x="48" y="362.3"/>
<use href="#i-rest" x="48" y="382.7"/>
<use href="#i-beach" x="48" y="402.8"/>
<use href="#i-climb" x="48" y="423"/>
<use href="#i-fountain" x="48" y="443"/>
<use href="#i-shop" x="48" y="463"/>
<use href="#i-parking" x="48" y="483"/>
<text x="47.9" y="485.35" font-size="6.4" font-weight="bold" fill="#fff" text-anchor="middle">P</text>
<use href="#i-dou" x="48" y="503"/>
<use href="#i-school" x="48" y="522.9"/>
<use href="#i-art" x="48" y="542.9"/>
<use href="#i-lounge" x="48" y="562.2"/>
<text x="65.2" y="185.75" font-size="10.7" fill="#2e2e2e" font-weight="bold" textLength="93.9" lengthAdjust="spacing" class="leg">детская площадка</text>
<text x="65.2" y="205.75" font-size="10.7" fill="#2e2e2e" font-weight="bold" textLength="120.4" lengthAdjust="spacing" class="leg">детская площадка ДОУ</text>
<text x="65.2" y="225.85" font-size="10.7" fill="#2e2e2e" font-weight="bold" textLength="157.1" lengthAdjust="spacing" class="leg">спортивная игровая площадка</text>
<text x="65.2" y="245.95" font-size="10.7" fill="#2e2e2e" font-weight="bold" textLength="66.6" lengthAdjust="spacing" class="leg">workout зона</text>
<text x="65.2" y="265.95" font-size="10.7" fill="#2e2e2e" font-weight="bold" textLength="129.5" lengthAdjust="spacing" class="leg">баскетбольная площадка</text>
<text x="65.2" y="285.95" font-size="10.7" fill="#2e2e2e" font-weight="bold" textLength="57.9" lengthAdjust="spacing" class="leg">скейт-парк</text>
<text x="65.2" y="306.15" font-size="10.7" fill="#2e2e2e" font-weight="bold" textLength="97.7" lengthAdjust="spacing" class="leg">настольный теннис</text>
<text x="65.2" y="326.15" font-size="10.7" fill="#2e2e2e" font-weight="bold" textLength="98.4" lengthAdjust="spacing" class="leg">хоккейная коробка</text>
<text x="65.2" y="346.25" font-size="10.7" fill="#2e2e2e" font-weight="bold" textLength="135.6" lengthAdjust="spacing" class="leg">кинологическая площадка</text>
<text x="65.2" y="366.25" font-size="10.7" fill="#2e2e2e" font-weight="bold" textLength="85.6" lengthAdjust="spacing" class="leg">теневой занавес</text>
<text x="65.2" y="386.65" font-size="10.7" fill="#2e2e2e" font-weight="bold" textLength="62.7" lengthAdjust="spacing" class="leg">зона отдыха</text>
<text x="65.2" y="406.75" font-size="10.7" fill="#2e2e2e" font-weight="bold" textLength="24.9" lengthAdjust="spacing" class="leg">пляж</text>
<text x="65.2" y="426.95" font-size="10.7" fill="#2e2e2e" font-weight="bold" textLength="55.4" lengthAdjust="spacing" class="leg">скалодром</text>
<text x="65.2" y="446.95" font-size="10.7" fill="#2e2e2e" font-weight="bold" textLength="36.5" lengthAdjust="spacing" class="leg">фонтан</text>
<text x="65.2" y="466.95" font-size="10.7" fill="#2e2e2e" font-weight="bold" textLength="42" lengthAdjust="spacing" class="leg">магазин</text>
<text x="65.2" y="486.95" font-size="10.7" fill="#2e2e2e" font-weight="bold" textLength="40.9" lengthAdjust="spacing" class="leg">паркинг</text>
<text x="65.2" y="506.95" font-size="10.7" fill="#2e2e2e" font-weight="bold" textLength="22.4" lengthAdjust="spacing" class="leg">ДОУ</text>
<text x="65.2" y="526.85" font-size="10.7" fill="#2e2e2e" font-weight="bold" textLength="124.5" lengthAdjust="spacing" class="leg">блок начальных классов</text>
<text x="65.2" y="546.85" font-size="10.7" fill="#2e2e2e" font-weight="bold" textLength="56.5" lengthAdjust="spacing" class="leg">арт-объект</text>
<text x="65.2" y="566.15" font-size="10.7" fill="#2e2e2e" font-weight="bold" textLength="56.9" lengthAdjust="spacing" class="leg">Sky Lounge</text>
<text x="545.8" y="126" font-size="6.1" fill="#2f2f2f" textLength="63.7" lengthAdjust="spacing" stroke="#2f2f2f" stroke-width="0.22">БАШНИ ЛИСИЦКОГО</text>
<text x="565.5" y="131.3" font-size="4.6" fill="#858585" textLength="24.3" lengthAdjust="spacing" >39 этажей</text>
<text x="459.5" y="184.1" font-size="6.1" fill="#2f2f2f" textLength="31.3" lengthAdjust="spacing" stroke="#2f2f2f" stroke-width="0.22">ЛЕВЕНГУК</text>
<text x="465.7" y="190" font-size="4.6" fill="#858585" textLength="18.9" lengthAdjust="spacing" >21 этаж</text>
<text x="538.8" y="184.1" font-size="6.1" fill="#2f2f2f" textLength="40.5" lengthAdjust="spacing" stroke="#2f2f2f" stroke-width="0.22">ЛОМОНОСОВ</text>
<text x="546.9" y="190" font-size="4.6" fill="#858585" textLength="24.3" lengthAdjust="spacing" >15 этажей</text>
<text x="416.3" y="316.5" font-size="6.1" fill="#2f2f2f" textLength="25" lengthAdjust="spacing" stroke="#2f2f2f" stroke-width="0.22">РУБЕНС</text>
<text x="416.65" y="321.5" font-size="4.6" fill="#858585" textLength="24.3" lengthAdjust="spacing" >13 этажей</text>
<text x="588" y="314.8" font-size="6.1" fill="#2f2f2f" textLength="31.5" lengthAdjust="spacing" stroke="#2f2f2f" stroke-width="0.22">БРЮЛЛОВ</text>
<text x="591.6" y="319.6" font-size="4.6" fill="#858585" textLength="24.3" lengthAdjust="spacing" >13 этажей</text>
<text x="437" y="511.8" font-size="6.1" fill="#2f2f2f" textLength="25.5" lengthAdjust="spacing" stroke="#2f2f2f" stroke-width="0.22">БАРЕНЦ</text>
<text x="437.6" y="517" font-size="4.6" fill="#858585" textLength="24.3" lengthAdjust="spacing" >13 этажей</text>
<text x="610" y="511.5" font-size="6.1" fill="#2f2f2f" textLength="23.8" lengthAdjust="spacing" stroke="#2f2f2f" stroke-width="0.22">БЕРИНГ</text>
<text x="609.75" y="516.8" font-size="4.6" fill="#858585" textLength="24.3" lengthAdjust="spacing" >14 этажей</text>
<text x="821.8" y="317.5" font-size="6.1" fill="#2f2f2f" textLength="27" lengthAdjust="spacing" stroke="#2f2f2f" stroke-width="0.22">ВАН ГОГ</text>
<text x="824.5" y="323.3" font-size="4.6" fill="#858585" textLength="21.6" lengthAdjust="spacing" >43 этажа</text>
<text x="847" y="389.3" font-size="6.1" fill="#2f2f2f" textLength="41" lengthAdjust="spacing" stroke="#2f2f2f" stroke-width="0.22">КАНДИНСКИЙ</text>
<text x="855.35" y="395.3" font-size="4.6" fill="#858585" textLength="24.3" lengthAdjust="spacing" >36 этажей</text>
<g transform="translate(360.6 443.2) rotate(-90)">
<text x="-19.4" y="0.4" font-size="6.1" fill="#2f2f2f" textLength="38.8" lengthAdjust="spacing" stroke="#2f2f2f" stroke-width="0.22">РЕМБРАНДТ</text>
</g>
<g transform="translate(366.4 443.1) rotate(-90)">
<text x="-11.7" y="0" font-size="4.6" fill="#858585" textLength="23.4" lengthAdjust="spacing" >38 этажей</text>
</g>
<g transform="translate(709.6 442.4) rotate(-90)">
<text x="-10.3" y="0.4" font-size="6.1" fill="#2f2f2f" textLength="20.6" lengthAdjust="spacing" stroke="#2f2f2f" stroke-width="0.22">РЕПИН</text>
</g>
<g transform="translate(714.2 442.5) rotate(-90)">
<text x="-11.7" y="0" font-size="4.6" fill="#858585" textLength="23.4" lengthAdjust="spacing" >39 этажей</text>
</g>
<rect x="503.8" y="218.8" width="29.5" height="8.7" fill="#111"/>
<text x="518.55" y="224.75" font-size="4.6" fill="#fff" text-anchor="middle" font-weight="bold" >4 очередь</text>
<rect x="852" y="350" width="30" height="8.5" fill="#111"/>
<text x="867" y="355.85" font-size="4.6" fill="#fff" text-anchor="middle" font-weight="bold" >3 очередь</text>
<rect x="434.3" y="531.8" width="30.7" height="8.2" fill="#111"/>
<text x="449.65" y="537.5" font-size="4.6" fill="#fff" text-anchor="middle" font-weight="bold" >1 очередь</text>
<rect x="605.8" y="531.8" width="30.5" height="8.2" fill="#111"/>
<text x="621.05" y="537.5" font-size="4.6" fill="#fff" text-anchor="middle" font-weight="bold" >2 очередь</text>
<text x="290.7" y="494.8" font-size="4.8" fill="#777" textLength="14.5" lengthAdjust="spacing" >Офис</text>
<text x="288" y="500.5" font-size="4.8" fill="#777" textLength="19.9" lengthAdjust="spacing" >продаж</text>
<text x="270.5" y="274.9" font-size="4.8" fill="#666" textLength="22" lengthAdjust="spacing" >Входная</text>
<text x="269.5" y="279.6" font-size="4.8" fill="#666" textLength="23" lengthAdjust="spacing" >площадь</text>
<text x="285.6" y="229.6" font-size="5" fill="#555" >МКАД</text>
<text x="285.6" y="236.7" font-size="4.8" fill="#666" textLength="44" lengthAdjust="spacing" >10 мин. на машине</text>
<text x="284.6" y="30" font-size="6.8" fill="#444" textLength="39.5" lengthAdjust="spacing" >Селигерская</text>
<text x="284.6" y="35.8" font-size="5" fill="#555" textLength="35" lengthAdjust="spacing" >2 мин. пешком</text>
<text x="791.4" y="481.3" font-size="6.2" fill="#444" textLength="30.4" lengthAdjust="spacing" >Окружная</text>
<text x="791.4" y="487.3" font-size="4.6" fill="#555" textLength="41.6" lengthAdjust="spacing" >7 мин. на машине</text>
<text x="791.4" y="500" font-size="4.8" fill="#555" >ТТК</text>
<text x="791.4" y="506.6" font-size="4.6" fill="#555" textLength="44" lengthAdjust="spacing" >15 мин. на машине</text>
<text x="615.3" y="443" font-size="4" fill="#7d93a6" text-anchor="middle" >Пруд</text>
<text x="482.4" y="52.5" font-size="5.9" fill="#555" textLength="86.6" lengthAdjust="spacing" >ДМИТРОВСКОЕ ШОССЕ</text>
<text x="482.4" y="555.2" font-size="5.9" fill="#555" textLength="83.6" lengthAdjust="spacing" >ИЛЬМЕНСКИЙ ПРОЕЗД</text>
<g transform="translate(263.3 405.5) rotate(-90.5)">
<text x="-35.8" y="2" font-size="5.6" fill="#666" textLength="71.6" lengthAdjust="spacing" >ПЯЛОВСКАЯ УЛИЦА</text>
</g>
<text transform="translate(888.7 209.9) rotate(-37)" x="0" y="2" font-size="5.6" fill="#555" text-anchor="middle">С</text>
<text transform="translate(919.9 216.3) rotate(53)" x="0" y="2" font-size="5.6" fill="#555" text-anchor="middle">В</text>
<text transform="translate(917.5 247.2) rotate(143)" x="0" y="2" font-size="5.6" fill="#555" text-anchor="middle">Ю</text>
<text transform="translate(885.7 242.4) rotate(-127)" x="0" y="2" font-size="5.6" fill="#555" text-anchor="middle">З</text>
<circle cx="295" cy="12" r="9.8" fill="#a9d8d3"/>
<text x="295" y="16.6" font-size="13" font-weight="bold" fill="#fff" text-anchor="middle">М</text>
<circle cx="801" cy="464" r="9.8" fill="#a9d8d3"/>
<text x="801" y="468.6" font-size="13" font-weight="bold" fill="#fff" text-anchor="middle">М</text>
</svg>
</body></html>
